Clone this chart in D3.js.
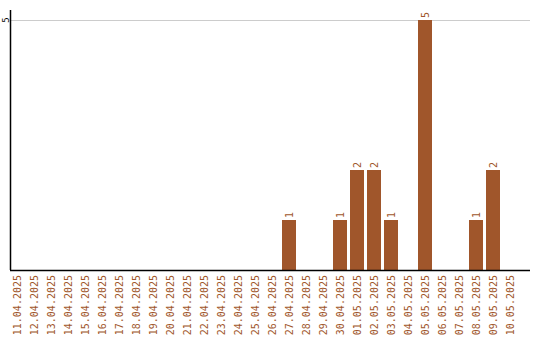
<!DOCTYPE html>
<html lang="en">
<head>
    <meta charset="UTF-8">
    <title>Daily count</title>
    <script src="https://d3js.org/d3.v7.min.js"></script>
    <style>
        body { margin: 0; background: #fff; }
    </style>
</head>
<body>
<div style="width: 540px;height: 340px" id="figure"></div>
<script>
    // one bar per day
    let days = ["11.04.2025", "12.04.2025", "13.04.2025", "14.04.2025", "15.04.2025",
        "16.04.2025", "17.04.2025", "18.04.2025", "19.04.2025", "20.04.2025",
        "21.04.2025", "22.04.2025", "23.04.2025", "24.04.2025", "25.04.2025",
        "26.04.2025", "27.04.2025", "28.04.2025", "29.04.2025", "30.04.2025",
        "01.05.2025", "02.05.2025", "03.05.2025", "04.05.2025", "05.05.2025",
        "06.05.2025", "07.05.2025", "08.05.2025", "09.05.2025", "10.05.2025"];
    let counts = [0, 0, 0, 0, 0, 0, 0, 0, 0, 0,
        0, 0, 0, 0, 0, 0, 1, 0, 0, 1,
        2, 2, 1, 0, 5, 0, 0, 1, 2, 0];
    let yTicks = [5];

    let bar_color = "#a0562b";
    let label_font = "'DejaVu Sans Mono', monospace";

    let figure = document.getElementById("figure");
    let svg = d3.select(figure).append("svg")
        .attr("width", 540)
        .attr("height", 340);

    let padLeft = 10, padRight = 530, padTop = 10, baseY = 270;

    let xScale = d3.scaleBand()
        .domain(days)
        .range([padLeft, padLeft + days.length * 17 - 3])
        .paddingInner(3 / 17)
        .paddingOuter(0);
    let yScale = d3.scaleLinear()
        .domain([0, 5.2])
        .range([baseY, padTop]);

    // grid lines
    svg.selectAll(".grid")
        .data(yTicks)
        .join("line")
        .attr("class", "grid")
        .attr("x1", padLeft)
        .attr("x2", padRight)
        .attr("y1", d => yScale(d) + 0.5)
        .attr("y2", d => yScale(d) + 0.5)
        .style("stroke", "#cccccc");

    // y tick labels, turned on their side
    svg.selectAll(".ytick")
        .data(yTicks)
        .join("text")
        .attr("class", "ytick")
        .attr("transform", d => "translate(6," + yScale(d) + ") rotate(-90)")
        .attr("text-anchor", "middle")
        .attr("dy", "0.35em")
        .style("font-family", label_font)
        .style("font-size", "9px")
        .style("fill", "#000")
        .text(d => d);

    // bars
    let data = days.map((d, i) => ({day: d, value: counts[i]}));
    svg.selectAll(".bar")
        .data(data.filter(d => d.value > 0))
        .join("rect")
        .attr("class", "bar")
        .attr("x", d => xScale(d.day))
        .attr("y", d => yScale(d.value))
        .attr("width", xScale.bandwidth())
        .attr("height", d => baseY - yScale(d.value))
        .style("fill", bar_color);

    // value labels over the bars
    svg.selectAll(".value")
        .data(data.filter(d => d.value > 0))
        .join("text")
        .attr("class", "value")
        .attr("transform", d => "translate(" + (xScale(d.day) + xScale.bandwidth() / 2) + "," + (yScale(d.value) - 2) + ") rotate(-90)")
        .attr("text-anchor", "start")
        .attr("dy", "0.35em")
        .style("font-family", label_font)
        .style("font-size", "10px")
        .style("fill", bar_color)
        .text(d => d.value);

    // axes lines
    svg.append("line")
        .attr("x1", padLeft + 0.5).attr("x2", padLeft + 0.5)
        .attr("y1", padTop).attr("y2", baseY)
        .style("stroke", "#000")
        .style("stroke-width", 1.5);
    svg.append("line")
        .attr("x1", padLeft).attr("x2", padRight)
        .attr("y1", baseY + 0.5).attr("y2", baseY + 0.5)
        .style("stroke", "#000")
        .style("stroke-width", 1.5);

    // day labels
    svg.selectAll(".xtick")
        .data(days)
        .join("text")
        .attr("class", "xtick")
        .attr("transform", d => "translate(" + (xScale(d) + xScale.bandwidth() / 2) + "," + (baseY + 5) + ") rotate(-90)")
        .attr("text-anchor", "end")
        .attr("dy", "0.35em")
        .style("font-family", label_font)
        .style("font-size", "10px")
        .style("fill", bar_color)
        .text(d => d);
</script>
</body>
</html>
